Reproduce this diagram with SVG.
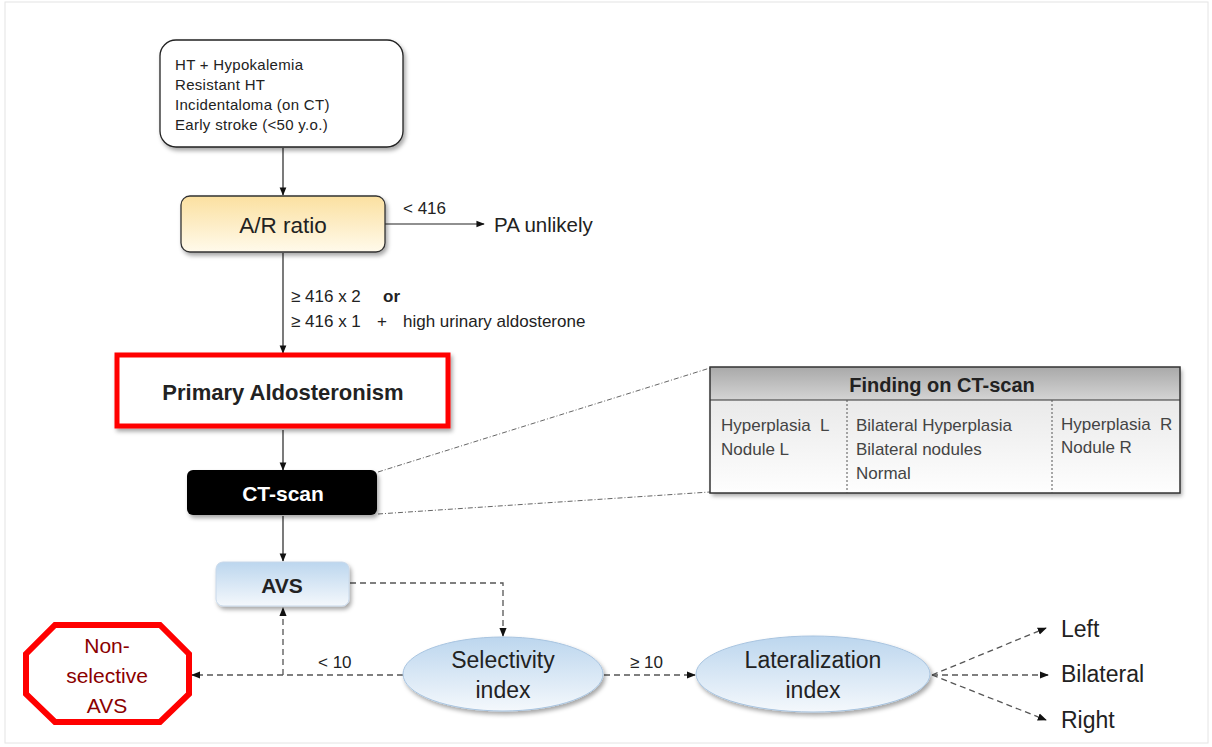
<svg xmlns="http://www.w3.org/2000/svg" width="1212" height="747" viewBox="0 0 1212 747">
<style>
text{font-family:"Liberation Sans",Arial,sans-serif;fill:#222}
.c{text-anchor:middle}
.b{font-weight:bold}
.s15{font-size:15px;letter-spacing:0.3px}
.lbl{font-size:17px}
.tb{font-size:17px;fill:#444}
.big{font-size:23px}
.solid{fill:none;stroke:#222;stroke-width:1.2}
.dash{fill:none;stroke:#555;stroke-width:1.3;stroke-dasharray:6 4}
.dd{fill:none;stroke:#666;stroke-width:1;stroke-dasharray:5 2 1 2}
</style>
<defs>
<marker id="ah" viewBox="0 0 10 10" refX="9" refY="5" markerWidth="7" markerHeight="7" orient="auto">
<path d="M0,1 L10,5 L0,9 z" fill="#111"/>
</marker>
<filter id="sh" x="-10%" y="-10%" width="130%" height="140%">
<feDropShadow dx="2" dy="3" stdDeviation="2" flood-color="#000" flood-opacity="0.35"/>
</filter>
<linearGradient id="gy" x1="0" y1="0" x2="0" y2="1">
<stop offset="0" stop-color="#fbe0a0"/><stop offset="1" stop-color="#fffaeb"/>
</linearGradient>
<linearGradient id="gb" x1="0" y1="0" x2="0" y2="1">
<stop offset="0" stop-color="#bcd6ee"/><stop offset="1" stop-color="#f4f8fc"/>
</linearGradient>
<linearGradient id="gh" x1="0" y1="0" x2="0" y2="1">
<stop offset="0" stop-color="#a9a9a9"/><stop offset="1" stop-color="#d4d4d4"/>
</linearGradient>
<linearGradient id="gt" x1="0" y1="0" x2="0" y2="1">
<stop offset="0" stop-color="#e2e2e2"/><stop offset="1" stop-color="#fefefe"/>
</linearGradient>
</defs>
<rect x="0" y="0" width="1212" height="747" fill="#fff"/>
<rect x="5" y="2" width="1203" height="741" fill="none" stroke="#e4e4e4" stroke-width="1"/>

<g id="connectors">
<line class="solid" x1="283" y1="148" x2="283" y2="195" marker-end="url(#ah)"/>
<line class="solid" x1="385" y1="224" x2="484" y2="224" marker-end="url(#ah)"/>
<line class="solid" x1="283" y1="253" x2="283" y2="353" marker-end="url(#ah)"/>
<line class="solid" x1="283" y1="430" x2="283" y2="470" marker-end="url(#ah)"/>
<line class="solid" x1="283" y1="516" x2="283" y2="561" marker-end="url(#ah)"/>
<line class="dd" x1="378" y1="472" x2="710" y2="368"/>
<line class="dd" x1="378" y1="514" x2="710" y2="492"/>
<polyline class="dash" points="350,583 503,583 503,636" marker-end="url(#ah)"/>
<line class="dash" x1="403" y1="675" x2="192" y2="675" marker-end="url(#ah)"/>
<line class="dash" x1="283" y1="675" x2="283" y2="608" marker-end="url(#ah)"/>
<line class="dash" x1="604" y1="675" x2="695" y2="675" marker-end="url(#ah)"/>
<line class="dash" x1="932" y1="675" x2="1046" y2="628" marker-end="url(#ah)"/>
<line class="dash" x1="932" y1="675" x2="1048" y2="675" marker-end="url(#ah)"/>
<line class="dash" x1="932" y1="675" x2="1046" y2="720" marker-end="url(#ah)"/>
<text x="403" y="214" class="lbl">&lt; 416</text>
<text y="302" class="lbl"><tspan x="291">≥ 416 x 2</tspan><tspan x="383" class="b">or</tspan></text>
<text y="327" class="lbl"><tspan x="291">≥ 416 x 1</tspan><tspan x="377">+</tspan><tspan x="403">high urinary aldosterone</tspan></text>
<text x="318" y="668" class="lbl">&lt; 10</text>
<text x="630" y="668" class="lbl">≥ 10</text>
</g>

<g id="indications">
<rect x="160" y="40" width="243" height="107" rx="16" fill="#fff" stroke="#222" stroke-width="1.3" filter="url(#sh)"/>
<text x="175" y="70" class="s15">HT + Hypokalemia</text>
<text x="175" y="90" class="s15">Resistant HT</text>
<text x="175" y="110" class="s15">Incidentaloma (on CT)</text>
<text x="175" y="130" class="s15">Early stroke (&lt;50 y.o.)</text>
</g>

<g id="ar-ratio">
<rect x="181" y="196" width="204" height="56" rx="9" fill="url(#gy)" stroke="#333" stroke-width="1.3" filter="url(#sh)"/>
<text x="283" y="233" class="c" style="font-size:22.5px">A/R ratio</text>
</g>

<g id="pa-unlikely">
<text x="494" y="232" style="font-size:20.5px">PA unlikely</text>
</g>

<g id="primary-aldosteronism">
<rect x="117" y="355" width="331" height="71" fill="#fff" stroke="#f00" stroke-width="5" filter="url(#sh)"/>
<text x="283" y="400" class="c b" style="font-size:22px">Primary Aldosteronism</text>
</g>

<g id="ct-scan">
<rect x="187" y="470" width="190" height="45" rx="6" fill="#000" filter="url(#sh)"/>
<text x="283" y="501" class="c b" style="font-size:21px;fill:#fff">CT-scan</text>
</g>

<g id="finding-table">
<rect x="710" y="367" width="470" height="126" fill="url(#gt)" filter="url(#sh)"/>
<rect x="710" y="367" width="470" height="33" fill="url(#gh)"/>
<line x1="710" y1="400" x2="1180" y2="400" stroke="#333" stroke-width="1"/>
<rect x="710" y="367" width="470" height="126" fill="none" stroke="#333" stroke-width="1.5"/>
<line x1="847" y1="400" x2="847" y2="493" stroke="#555" stroke-width="1" stroke-dasharray="2 2"/>
<line x1="1052" y1="400" x2="1052" y2="493" stroke="#555" stroke-width="1" stroke-dasharray="2 2"/>
<text x="942" y="392" class="c b" style="font-size:20px">Finding on CT-scan</text>
<text y="431" class="tb"><tspan x="721">Hyperplasia</tspan><tspan x="820">L</tspan></text>
<text x="721" y="455" class="tb">Nodule L</text>
<text x="856" y="431" class="tb">Bilateral Hyperplasia</text>
<text x="856" y="455" class="tb">Bilateral nodules</text>
<text x="856" y="479" class="tb">Normal</text>
<text y="430" class="tb"><tspan x="1061">Hyperplasia</tspan><tspan x="1160">R</tspan></text>
<text x="1061" y="453" class="tb">Nodule R</text>
</g>

<g id="avs">
<rect x="216" y="562" width="133" height="44" rx="7" fill="url(#gb)" stroke="#c8d8ea" stroke-width="1" filter="url(#sh)"/>
<text x="282" y="593" class="c b" style="font-size:21px">AVS</text>
</g>

<g id="non-selective-avs">
<polygon points="55,625 160,625 189,654 189,694 160,722 55,722 26,694 26,654" fill="#fff" stroke="#f00" stroke-width="6"/>
<text x="107" y="653" class="c" style="font-size:21px;fill:#8b0000">Non-</text>
<text x="107" y="683" class="c" style="font-size:21px;fill:#8b0000">selective</text>
<text x="107" y="713" class="c" style="font-size:21px;fill:#8b0000">AVS</text>
</g>

<g id="selectivity-index">
<ellipse cx="503" cy="674" rx="100" ry="37" fill="url(#gb)" stroke="#a8c4e0" stroke-width="1" filter="url(#sh)"/>
<text x="503" y="668" class="c big">Selectivity</text>
<text x="503" y="698" class="c big">index</text>
</g>

<g id="lateralization-index">
<ellipse cx="813" cy="674" rx="117" ry="38" fill="url(#gb)" stroke="#a8c4e0" stroke-width="1" filter="url(#sh)"/>
<text x="813" y="668" class="c big">Lateralization</text>
<text x="813" y="698" class="c big">index</text>
</g>

<g id="left"><text x="1061" y="637" class="big">Left</text></g>
<g id="bilateral"><text x="1061" y="682" class="big">Bilateral</text></g>
<g id="right"><text x="1061" y="728" class="big">Right</text></g>
</svg>
